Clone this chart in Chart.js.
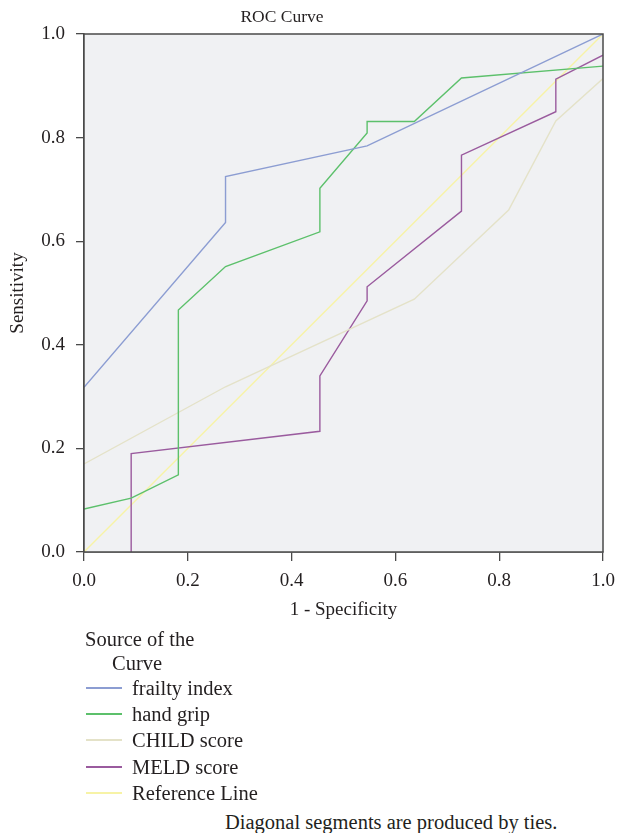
<!DOCTYPE html>
<html>
<head>
<meta charset="utf-8">
<script src="https://cdn.jsdelivr.net/npm/chart.js@4/dist/chart.umd.min.js"></script>
<style>
  body { margin: 0; background: #fff; }
  #wrap { position: relative; width: 617px; height: 833px; font-family: 'Liberation Serif', 'Times New Roman', serif; color: #231f20; }
  #box { position: absolute; left: 0; top: 0; width: 617px; height: 630px; }
  .txt { position: absolute; font-size: 20.5px; line-height: 24px; white-space: nowrap; }
  .sw { position: absolute; width: 36px; height: 2px; }
</style>
</head>
<body>
<div id="wrap">
  <div id="box"><canvas id="roc" width="617" height="630"></canvas></div>
  <div id="legend"></div>
</div>
<script>
// ROC curve data
var chartTitle = "ROC Curve";
var seriesNames = ["frailty index", "hand grip", "CHILD score", "MELD score", "Reference Line"];
var seriesColors = ["#8c9dd2", "#5cc06b", "#e4e2c8", "#9a5b9e", "#f7f3a6"];

var frailtyX = [0, 0.2727, 0.2727, 0.5455, 1];
var frailtyY = [0.318, 0.636, 0.725, 0.784, 1];

var gripX = [0, 0.0909, 0.1818, 0.1818, 0.2727, 0.4545, 0.4545, 0.5455, 0.5455, 0.6364, 0.7273, 1];
var gripY = [0.083, 0.104, 0.149, 0.467, 0.551, 0.618, 0.702, 0.809, 0.831, 0.831, 0.915, 0.938];

var childX = [0, 0.2727, 0.6364, 0.8182, 0.9091, 1];
var childY = [0.170, 0.319, 0.488, 0.660, 0.832, 0.914];

var meldX = [0.0909, 0.0909, 0.4545, 0.4545, 0.5455, 0.5455, 0.7273, 0.7273, 0.9091, 0.9091, 1];
var meldY = [0, 0.190, 0.233, 0.340, 0.485, 0.512, 0.658, 0.766, 0.850, 0.913, 0.959];

var refX = [0, 1];
var refY = [0, 1];

var tickValues = [0, 0.2, 0.4, 0.6, 0.8, 1.0];

function toPoints(xs, ys) {
    return xs.map((x, i) => ({x: x, y: ys[i]}));
}

var allX = [frailtyX, gripX, childX, meldX, refX];
var allY = [frailtyY, gripY, childY, meldY, refY];

const serif = "'Liberation Serif', 'Times New Roman', serif";
const ink = "#231f20";
const frame = "#4a4a4a";

// plot background, the closed frame round the chart area, and the title
const framePlugin = {
    id: 'framePlugin',
    beforeDatasetsDraw(chart) {
        const a = chart.chartArea;
        const ctx = chart.ctx;
        ctx.save();
        ctx.fillStyle = "#f0f1f3";
        ctx.fillRect(a.left, a.top, a.right - a.left, a.bottom - a.top);
        ctx.restore();
    },
    afterDraw(chart) {
        const a = chart.chartArea;
        const ctx = chart.ctx;
        ctx.save();
        ctx.strokeStyle = frame;
        ctx.lineWidth = 1.5;
        ctx.strokeRect(a.left, a.top, a.right - a.left, a.bottom - a.top);
        // title sits a bit left of the plot centre, as in the original
        ctx.fillStyle = ink;
        ctx.font = "17.5px " + serif;
        ctx.textAlign = "center";
        ctx.textBaseline = "middle";
        ctx.fillText(chartTitle, 282, 17);
        ctx.restore();
    }
};

var datasets = seriesNames.map((name, i) => ({
    label: name,
    data: toPoints(allX[i], allY[i]),
    showLine: true,
    borderColor: seriesColors[i],
    backgroundColor: seriesColors[i],
    borderWidth: 1.4,
    pointRadius: 0,
    tension: 0
}));

new Chart(document.getElementById("roc"), {
    type: 'scatter',
    data: { datasets: datasets },
    plugins: [framePlugin],
    options: {
        responsive: false,
        animation: false,
        layout: { padding: { left: 0, right: 14, top: 34, bottom: 0 } },
        plugins: {
            legend: { display: false },
            tooltip: { enabled: false },
            title: { display: false }
        },
        scales: {
            x: {
                type: 'linear',
                min: 0, max: 1,
                afterBuildTicks: (scale) => { scale.ticks = tickValues.map(v => ({value: v})); },
                afterFit: (scale) => { scale.height = 78; scale.paddingLeft = 0; scale.paddingRight = 0; },
                ticks: {
                    color: ink,
                    font: { family: serif, size: 19 },
                    padding: 9,
                    maxRotation: 0,
                    callback: (v) => Number(v).toFixed(1)
                },
                grid: { display: true, drawOnChartArea: false, drawTicks: true, tickLength: 9, color: frame, lineWidth: 1.3 },
                border: { display: true, color: frame, width: 1.5 },
                title: {
                    display: true,
                    text: "1 - Specificity",
                    color: ink,
                    font: { family: serif, size: 19 },
                    padding: { top: 0, bottom: 8.5 }
                }
            },
            y: {
                type: 'linear',
                min: 0, max: 1,
                afterBuildTicks: (scale) => { scale.ticks = tickValues.map(v => ({value: v})); },
                afterFit: (scale) => { scale.width = 84; scale.paddingTop = 0; scale.paddingBottom = 0; },
                ticks: {
                    color: ink,
                    font: { family: serif, size: 19 },
                    padding: 11,
                    callback: (v) => Number(v).toFixed(1)
                },
                grid: { display: true, drawOnChartArea: false, drawTicks: true, tickLength: 8, color: frame, lineWidth: 1.3 },
                border: { display: true, color: frame, width: 1.5 },
                title: {
                    display: true,
                    text: "Sensitivity",
                    color: ink,
                    font: { family: serif, size: 19 },
                    padding: { top: 6.5, bottom: 0 }
                }
            }
        }
    }
});

// legend below the chart, built from the same names and colours
var legend = document.getElementById("legend");
var html = '<div class="txt" style="left:85px;top:627px">Source of the</div>';
html += '<div class="txt" style="left:112px;top:651px">Curve</div>';
var rowTop = 688;
seriesNames.forEach((name, i) => {
    var cy = Math.round(rowTop + i * 26.2);
    html += '<div class="sw" style="left:86px;top:' + (cy - 1) + 'px;background:' + seriesColors[i] + '"></div>';
    html += '<div class="txt" style="left:132px;top:' + (cy - 12) + 'px">' + name + '</div>';
});
html += '<div class="txt" style="left:225px;top:810px">Diagonal segments are produced by ties.</div>';
legend.innerHTML = html;
</script>
</body>
</html>
